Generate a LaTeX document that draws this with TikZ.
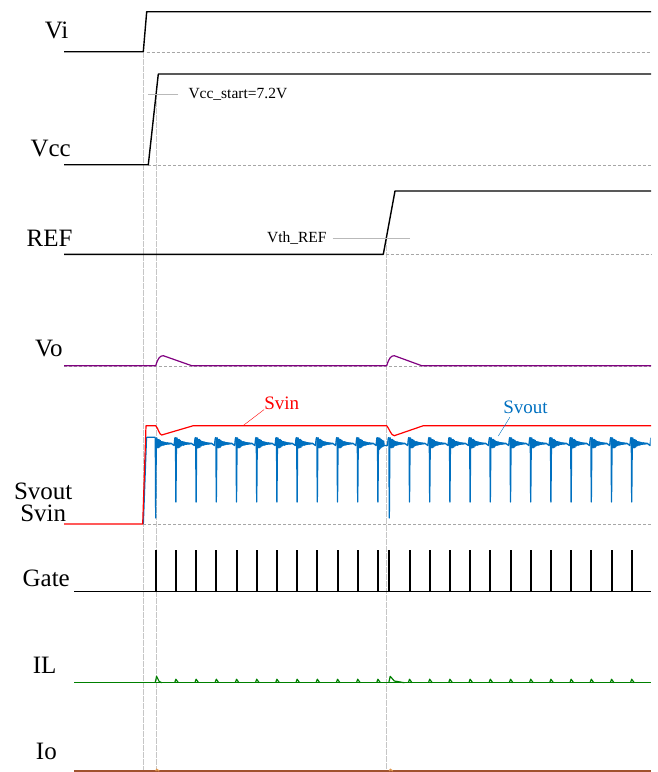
\documentclass[tikz,border=0pt]{standalone}
\usepackage{fontspec}
\setmainfont{Liberation Serif}
\usepackage{tikz}
\usetikzlibrary{positioning, calc}
\usepackage{xcolor}

\definecolor{voPurple}{HTML}{800080}
\definecolor{svinRed}{HTML}{FF0000}
\definecolor{svoutBlue}{HTML}{0070C0}
\definecolor{ilGreen}{HTML}{008000}
\definecolor{ioBrown}{HTML}{A0522D}
\definecolor{ioOrange}{HTML}{E09850}

\begin{document}
\begin{tikzpicture}[x=1pt, y=-1pt]
        % Definitions
        \def\xL{64}      % left end of traces
        \def\xR{651}     % right end of traces
        \def\tA{143.3}   % Vi rises
        \def\tB{155.7}   % Vcc reaches Vcc_start
        \def\tC{385.7}   % REF reaches Vth_REF
        \def\tD{389.3}   % first pulse after restart
        \def\per{20.2}   % switching period

        % Styles
        \tikzstyle{sig} = [draw, line width=1.4pt, black, line join=round]
        \tikzstyle{pulse} = [draw, line width=2pt, black]
        \tikzstyle{trace} = [draw, line width=1.2pt, line join=round]
        \tikzstyle{svout} = [trace, svoutBlue, line width=1.3pt]
        \tikzstyle{zeroline} = [draw, gray!70, thin, dash pattern=on 3pt off 2pt]
        \tikzstyle{marker} = [draw, gray!45, thin, dash pattern=on 6pt off 1pt]
        \tikzstyle{guide} = [draw, gray!55, thin]
        \tikzstyle{lbl} = [inner sep=0pt, anchor=base east, font=\fontsize{25}{30}\selectfont]
        \tikzstyle{note} = [inner sep=0pt, font=\fontsize{15.5}{18}\selectfont]
        \tikzstyle{tag} = [inner sep=0pt, font=\fontsize{19}{22}\selectfont]

        % one switching cell of Svout: x, depth, length
        \def\svcell#1#2#3{%
            \pgfmathsetmacro\rEnd{#3-5}
            \draw[svout] (#1-0.4,437.3) -- (#1,#2) -- (#1+0.6,438)
                -- plot[domain=1:\rEnd, samples=45] ({#1+\x},{443.5+6.5*exp(-(\x-1)/5)*sin(300*\x)})
                -- (#1+#3-1.8,445.5) .. controls (#1+#3-1,437.3) .. (#1+#3-0.4,437.3);
        }

        \useasboundingbox (0,0) rectangle (657,772);

        % Labels
        \node[lbl] (vi) at (68.5,38.3) {Vi};
        \node[lbl] (vcc) at (71,156.7) {Vcc};
        \node[lbl] (ref) at (72.7,246.7) {REF};
        \node[lbl] (vo) at (62.7,356.7) {Vo};
        \node[lbl, anchor=south, align=center, font=\fontsize{25}{21.7}\selectfont] (sv) at (43.2,521.7) {Svout\\Svin};
        \node[lbl] (gate) at (70,586.7) {Gate};
        \node[lbl] (il) at (56.7,673.3) {IL};
        \node[lbl] (io) at (57,759) {Io};

        % Time markers
        \coordinate (viup) at (\tA,51.7);
        \coordinate (vccth) at (\tB,94.3);
        \coordinate (refth) at (\tC,238.3);
        \draw[marker] (viup) -- (\tA,772);
        \draw[marker] (vccth) -- (\tB,772);
        \draw[marker] (refth) -- (\tC,772);

        % Zero levels
        \draw[zeroline] (146.7,51.7) -- (\xR,51.7);
        \draw[zeroline] (148.3,164.7) -- (\xR,164.7);
        \draw[zeroline] (\tC,254.3) -- (\xR,254.3);
        \draw[zeroline] (\xL,365.7) -- (\xR,365.7);
        \draw[zeroline] (\tA,524) -- (\xR,524);

        % Vi, Vcc, REF
        \draw[sig] (\xL,51.7) -- (\tA,51.7) -- (146.7,11.7) -- (\xR,11.7);
        \draw[sig] (\xL,164.7) -- (148.3,164.7) -- (158.3,74) -- (\xR,74);
        \draw[sig] (\xL,254.3) -- (383.3,254.3) -- (395,191) -- (\xR,191);

        % Thresholds
        \node[note, anchor=west] (vccs) at (188.3,94.3) {Vcc\_start=7.2V};
        \coordinate (vccgd) at (148,94.3);
        \draw[guide] ([xshift=-10pt]vccs.west) -- (vccgd);
        \node[note, anchor=east] (vthref) at (326.7,238.3) {Vth\_REF};
        \coordinate (refgd) at (410,238.3);
        \draw[guide] ([xshift=6pt]vthref.east) -- (refgd);

        % Vo
        \draw[trace, voPurple] (\xL,365.7) -- (\tB,365.7) .. controls (158,358) and (160,355.7) .. (163.3,355.7)
            -- (191.7,365.7) -- (386.7,365.7) .. controls (389,358) and (391,355.7) .. (394.3,355.7)
            -- (421.7,365.7) -- (\xR,365.7);

        % Gate, IL and Io base lines
        \draw[sig] (74,591.7) -- (\xR,591.7);
        \draw[trace, ilGreen] (74,682.7) -- (\xR,682.7);
        \draw[trace, ioBrown] (74,771) -- (\xR,771);
        \foreach \x in {\tB, \tD} {
            \draw[ioOrange, line width=1.2pt] (\x,771) -- (\x+1,769.3) -- (\x+3.5,771);
        }

        % Switching: Svout, Gate, IL
        \begin{scope}
            \clip (0,0) rectangle (650.5,772);
            \draw[svout] (\tA,524) -- (146.5,437.3) -- (\tB-0.4,437.3);
            \foreach \k in {0,...,11} {
                \pgfmathsetmacro\xs{\tB+\per*\k}
                \pgfmathsetmacro\yd{\k==0 ? 518 : 502}
                \pgfmathsetmacro\cl{\k==11 ? 11.4 : \per}
                \svcell{\xs}{\yd}{\cl}
                \draw[pulse] (\xs,592) -- (\xs,550);
                \ifnum\k=0
                    \draw[trace, ilGreen] (\xs-0.5,682.7) -- (\xs+0.9,676.3) -- (\xs+3.5,681.5) -- (\xs+6,682.7);
                \else
                    \draw[trace, ilGreen] (\xs-1.2,682.7) -- (\xs,679.2) -- (\xs+2.5,682.7);
                \fi
            }
            \foreach \k in {0,...,12} {
                \pgfmathsetmacro\xs{\tD+\per*\k}
                \pgfmathsetmacro\yd{\k==0 ? 518 : 502}
                \svcell{\xs}{\yd}{\per}
                \draw[pulse] (\xs,592) -- (\xs,550);
                \ifnum\k=0
                    \draw[trace, ilGreen] (\xs-0.5,682.7) -- (\xs+0.9,676.3) -- (\xs+5,681) -- (\xs+15,682.7);
                \else
                    \draw[trace, ilGreen] (\xs-1.2,682.7) -- (\xs,679.2) -- (\xs+2.5,682.7);
                \fi
            }
        \end{scope}

        % Svin
        \draw[trace, svinRed] (\xL,524) -- (142.7,524) -- (146,425.7) -- (\tB,425.7)
            .. controls (158,428) and (159.5,435) .. (161.7,435) -- (193.3,425.7) -- (386.7,425.7)
            .. controls (389,428) and (391,435.7) .. (394.3,435.7) -- (423.3,425.7) -- (\xR,425.7);

        % Trace tags
        \node[tag, svinRed] (svinl) at (281.7,403) {Svin};
        \coordinate (svinpt) at (243,425.7);
        \draw[svinRed, thin] (svinl.south west) -- (svinpt);
        \node[tag, svoutBlue] (svoutl) at (525.5,407.7) {Svout};
        \coordinate (svoutpt) at (498.3,436);
        \draw[svoutBlue, thin] ([shift={(6.7,3)}]svoutl.south west) -- (svoutpt);

    \end{tikzpicture}
\end{document}
